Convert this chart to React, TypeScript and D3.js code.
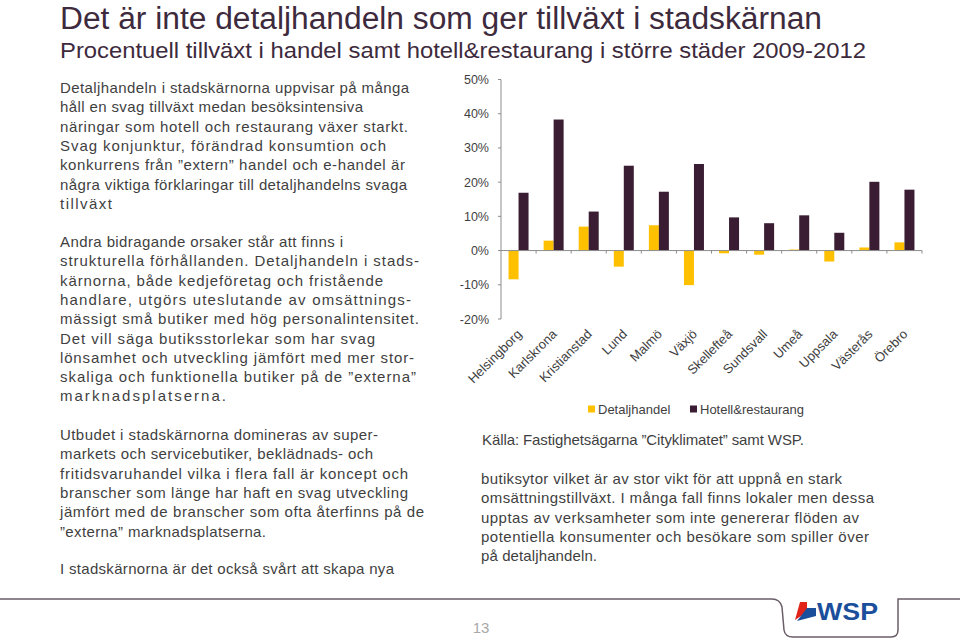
import React from "react";
import * as d3 from "d3";

const categories = ["Helsingborg", "Karlskrona", "Kristianstad", "Lund", "Malmö", "Växjö", "Skellefteå", "Sundsvall", "Umeå", "Uppsala", "Västerås", "Örebro"];
const detaljhandel = [-8.4, 2.9, 7.0, -4.7, 7.4, -10.1, -0.8, -1.2, 0.3, -3.2, 0.9, 2.4];
const hotellRestaurang = [16.9, 38.3, 11.4, 24.8, 17.2, 25.3, 9.7, 8.0, 10.3, 5.2, 20.1, 17.8];
const yTicks = [-20, -10, 0, 10, 20, 30, 40, 50];
const seriesNames = ["Detaljhandel", "Hotell&restaurang"];
const seriesColors = ["#FFC000", "#3A1D33"];

const title = "Det är inte detaljhandeln som ger tillväxt i stadskärnan";
const subtitle = "Procentuell tillväxt i handel samt hotell&restaurang i större städer 2009-2012";

const para1 = [
  "Detaljhandeln i stadskärnorna uppvisar på många",
  "håll en svag tillväxt medan besöksintensiva",
  "näringar som hotell och restaurang växer starkt.",
  "Svag konjunktur, förändrad konsumtion och",
  "konkurrens från ”extern” handel och e-handel är",
  "några viktiga förklaringar till detaljhandelns svaga",
  "tillväxt",
];
const para2 = [
  "Andra bidragande orsaker står att finns i",
  "strukturella förhållanden. Detaljhandeln i stads-",
  "kärnorna, både kedjeföretag och fristående",
  "handlare, utgörs uteslutande av omsättnings-",
  "mässigt små butiker med hög personalintensitet.",
  "Det vill säga butiksstorlekar som har svag",
  "lönsamhet och utveckling jämfört med mer stor-",
  "skaliga och funktionella butiker på de ”externa”",
  "marknadsplatserna.",
];
const para3 = [
  "Utbudet i stadskärnorna domineras av super-",
  "markets och servicebutiker, beklädnads- och",
  "fritidsvaruhandel vilka i flera fall är koncept och",
  "branscher som länge har haft en svag utveckling",
  "jämfört med de branscher som ofta återfinns på de",
  "”externa” marknadsplatserna.",
];
const para4 = ["I stadskärnorna är det också svårt att skapa nya"];
const source = ["Källa: Fastighetsägarna ”Cityklimatet” samt WSP."];
const para5 = [
  "butiksytor vilket är av stor vikt för att uppnå en stark",
  "omsättningstillväxt. I många fall finns lokaler men dessa",
  "upptas av verksamheter som inte genererar flöden av",
  "potentiella konsumenter och besökare som spiller över",
  "på detaljhandeln.",
];

const TEXT = "#3f3f3f";
const FONT = "'Liberation Sans', Arial, sans-serif";

function Para({ lines, x, y, ends, lh = 19.3 }: { lines: string[]; x: number; y: number; ends: number[]; lh?: number }) {
  return (
    <g fontSize={15} fill={TEXT} fontFamily={FONT}>
      {lines.map((l, i) => (
        <text key={i} x={x} y={y + i * lh} textLength={ends[i] - x} lengthAdjust="spacing">{l}</text>
      ))}
    </g>
  );
}

export default function App() {
  const left = 501, right = 922, top = 79.5, bottom = 319;
  const x = d3.scaleBand<string>().domain(categories).range([left, right]);
  const y = d3.scaleLinear().domain([-20, 50]).range([bottom, top]);
  const bw = 10;
  const axisColor = "#8c8c8c";
  const y0 = y(0);

  return (
    <svg width={960} height={641} style={{ position: "absolute", left: 0, top: 0, background: "#fff" }} fontFamily={FONT}>
      <rect width={960} height={641} fill="#fff" />
      <text x={60} y={28.5} fontSize={31} fill="#3d2a3c" textLength={762} lengthAdjust="spacingAndGlyphs">{title}</text>
      <text x={60} y={58} fontSize={22} fill="#3d2a3c" textLength={806} lengthAdjust="spacingAndGlyphs">{subtitle}</text>

      <Para lines={para1} x={60} y={93} ends={[409, 363, 408, 386, 405, 407, 112]} />
      <Para lines={para2} x={60} y={247} ends={[343, 419, 383, 411, 419, 375, 414, 416, 226]} />
      <Para lines={para3} x={60} y={440} ends={[378, 373, 408, 408, 424, 266]} />
      <Para lines={para4} x={60} y={574} ends={[394]} />
      <Para lines={source} x={482} y={445} ends={[804]} />
      <Para lines={para5} x={481} y={484} ends={[842, 874, 859, 869, 597]} />

      {/* chart */}
      <g>
        {categories.map((c, i) => {
          const cx = (x(c) as number) + x.bandwidth() / 2;
          const d = detaljhandel[i], h = hotellRestaurang[i];
          return (
            <g key={c}>
              <rect x={cx - bw} y={Math.min(y(d), y0)} width={bw} height={Math.abs(y(d) - y0)} fill={seriesColors[0]} />
              <rect x={cx} y={Math.min(y(h), y0)} width={bw} height={Math.abs(y(h) - y0)} fill={seriesColors[1]} />
            </g>
          );
        })}
        <line x1={left} x2={left} y1={top} y2={bottom} stroke={axisColor} strokeWidth={1} />
        {yTicks.map((t) => (
          <g key={t}>
            <line x1={left - 3} x2={left} y1={y(t)} y2={y(t)} stroke={axisColor} />
            <text x={489} y={y(t) + 4.5} fontSize={12.5} fill={TEXT} textAnchor="end">{`${t}%`}</text>
          </g>
        ))}
        <line x1={left} x2={right} y1={y0} y2={y0} stroke={axisColor} strokeWidth={1} />
        {categories.map((c) => (
          <line key={c} x1={(x(c) as number) + x.bandwidth()} x2={(x(c) as number) + x.bandwidth()} y1={y0} y2={y0 + 3} stroke={axisColor} />
        ))}
        {categories.map((c) => {
          const cx = (x(c) as number) + x.bandwidth() / 2;
          return (
            <text key={c} transform={`translate(${cx + 4},${335}) rotate(-45)`} textAnchor="end" fontSize={13} fill={TEXT}>{c}</text>
          );
        })}
        {seriesNames.map((s, i) => {
          const lx = i === 0 ? 588 : 690;
          return (
            <g key={s}>
              <rect x={lx} y={405.5} width={7} height={7} fill={seriesColors[i]} />
              <text x={lx + 10} y={413.5} fontSize={13} fill={TEXT}>{s}</text>
            </g>
          );
        })}
      </g>

      {/* footer */}
      <path d="M0,599 H772 Q780,599 782,607 L784,630 Q785,637 793,637 H891 Q898,637 898,630 V599 H960" fill="none" stroke="#6a5e68" strokeWidth={1.5} />
      <text x={481} y={633} fontSize={15} fill="#a8a8a8" textAnchor="middle">13</text>
      <polygon points="800,602 807,602 807,612 795,620" fill="#e2231a" />
      <polygon points="807,608 816,608 816,616 797,621" fill="#1b4f9c" />
      <text x={817} y={620} fontSize={24} fontWeight="bold" fill="#1b4f9c" textLength={61} lengthAdjust="spacingAndGlyphs">WSP</text>
    </svg>
  );
}
